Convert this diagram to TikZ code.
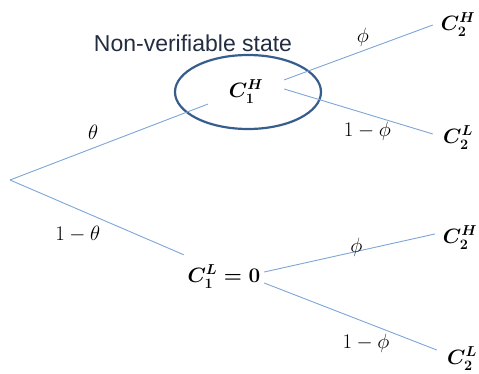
\documentclass[tikz,border=0pt]{standalone}
\usepackage{amsmath}
\usepackage{fontspec}
\newfontfamily\notefont{Liberation Sans}
\usepackage{tikz}
\usetikzlibrary{shapes.geometric, positioning, calc}
\definecolor{linkblue}{RGB}{125,165,215}
\definecolor{ringblue}{RGB}{55,93,140}
\definecolor{inkgray}{RGB}{35,45,65}
\tikzstyle{state} = [rectangle, inner sep=0pt, font=\fontsize{21}{25}\selectfont, text=black]
\tikzstyle{prob} = [font=\fontsize{20}{24}\selectfont, text=black]
\tikzstyle{branch} = [draw=linkblue, line width=0.9pt]

\begin{document}
\begin{tikzpicture}[x=1pt, y=-1pt]
    \useasboundingbox (0,0) rectangle (479,374);

    % Erste Stufe
    \coordinate (root) at (10,180);
    \node (c1h) [state, minimum width=76pt, minimum height=22pt] at (246,92) {$\boldsymbol{C_1^H}$};
    \node (c1l) [state, minimum width=80pt, minimum height=44pt] at (224,277) {$\boldsymbol{C_1^L = 0}$};

    % Zweite Stufe
    \node (c2h1) [state, minimum width=50pt] at (458,25) {$\boldsymbol{C_2^H}$};
    \node (c2l1) [state, minimum width=50pt] at (458,138) {$\boldsymbol{C_2^L}$};
    \node (c2h2) [state, minimum width=50pt] at (460,238) {$\boldsymbol{C_2^H}$};
    \node (c2l2) [state, minimum width=50pt] at (462,359) {$\boldsymbol{C_2^L}$};

    % Markierung
    \node (ring) [ellipse, draw=ringblue, line width=2.2pt, minimum width=146pt, minimum height=74pt] at (248,92) {};
    \node (note) [font=\notefont\fontsize{23}{27}\selectfont, text=inkgray] at (193,43) {Non-verifiable state};

    % --- Zweige ---
    \draw [branch] (root) -- (c1h.south west) node [prob, pos=0.42, above=5pt] {$\theta$};
    \draw [branch] (root) -- (c1l.north west) node [prob, pos=0.39, below=13pt] {$1-\theta$};

    \draw [branch] (c1h.north east) -- (c2h1.west) node [prob, pos=0.53, above=0pt] {$\phi$};
    \draw [branch] ([yshift=3pt]c1h.east) -- ([yshift=4pt]c2l1.west) node [prob, pos=0.56, below=4pt] {$1-\phi$};

    \draw [branch] ([yshift=5pt]c1l.east) -- ([yshift=4pt]c2h2.west) node [prob, pos=0.54, yshift=4pt] {$\phi$};
    \draw [branch] ([yshift=-6pt]c1l.east) -- ([yshift=9pt]c2l2.west) node [prob, pos=0.59, below=8pt] {$1-\phi$};

\end{tikzpicture}
\end{document}
